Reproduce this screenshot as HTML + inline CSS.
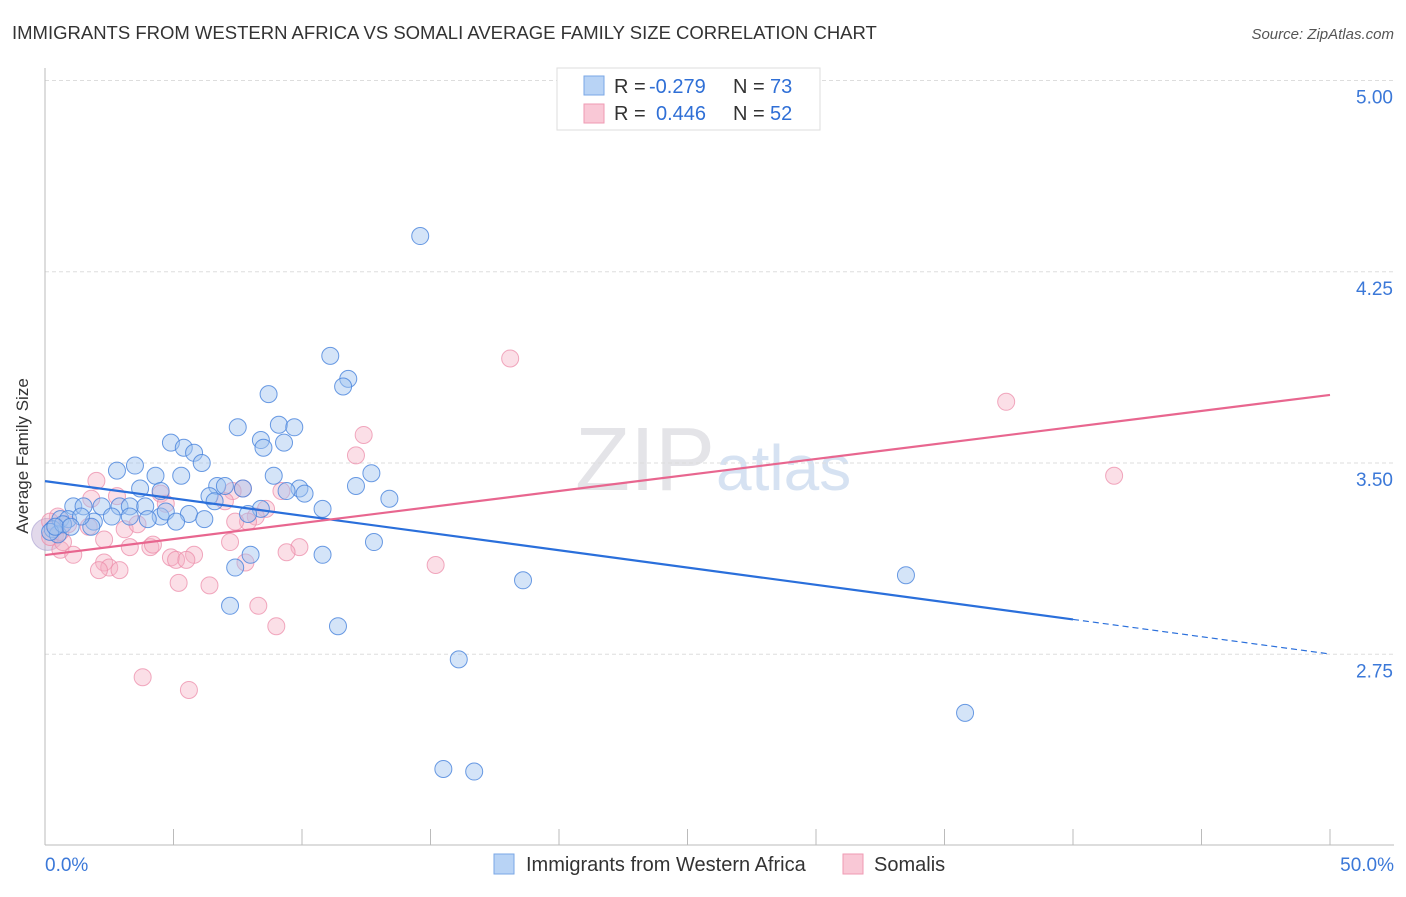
<!DOCTYPE html>
<html><head><meta charset="utf-8"><style>
body{margin:0;background:#fff;font-family:"Liberation Sans",sans-serif;}
svg text{font-family:"Liberation Sans",sans-serif;}
</style></head><body>
<svg id="c" width="1406" height="892" xmlns="http://www.w3.org/2000/svg">
<text x="12" y="39" font-size="18.5" fill="#333">IMMIGRANTS FROM WESTERN AFRICA VS SOMALI AVERAGE FAMILY SIZE CORRELATION CHART</text>
<text x="1394" y="39" font-size="15" fill="#555" font-style="italic" text-anchor="end">Source: ZipAtlas.com</text>
<text x="28" y="456" font-size="17" fill="#333" text-anchor="middle" transform="rotate(-90 28 456)">Average Family Size</text>
<text x="715" y="490" font-size="90" fill="#e4e4e8" text-anchor="end" font-family="Liberation Serif">ZIP</text>
<text x="716" y="490" font-size="64" fill="#d6e2f2">atlas</text>
<g id="grid"></g><g id="axes"></g><g id="pts"></g><g id="lines"></g>
<g>
<rect x="557" y="68" width="263" height="62" fill="#fff" stroke="#ddd"/>
<rect x="584" y="76" width="20" height="19" fill="#b8d3f5" stroke="#7aa7e6"/>
<rect x="584" y="104" width="20" height="19" fill="#f9c8d6" stroke="#ef9ab3"/>
<text x="614" y="93" font-size="20" fill="#333">R =</text>
<text x="649" y="93" font-size="20" fill="#2f6fd6">-0.279</text>
<text x="733" y="93" font-size="20" fill="#333">N =</text>
<text x="770" y="93" font-size="20" fill="#2f6fd6">73</text>
<text x="614" y="120" font-size="20" fill="#333">R =</text>
<text x="656" y="120" font-size="20" fill="#2f6fd6">0.446</text>
<text x="733" y="120" font-size="20" fill="#333">N =</text>
<text x="770" y="120" font-size="20" fill="#2f6fd6">52</text>
</g>
<g>
<rect x="494" y="854" width="20" height="20" fill="#b8d3f5" stroke="#7aa7e6"/>
<text x="526" y="871" font-size="20" fill="#333">Immigrants from Western Africa</text>
<rect x="843" y="854" width="20" height="20" fill="#f9c8d6" stroke="#ef9ab3"/>
<text x="874" y="871" font-size="20" fill="#333">Somalis</text>
</g>
<text x="45" y="871" font-size="19" fill="#3b78d8">0.0%</text>
<text x="1394" y="871" font-size="19" fill="#3b78d8" text-anchor="end">50.0%</text>
</svg>
<script>
const yTicks=[5.00,4.25,3.50,2.75];
const blueX=[14.6,11.1,11.8,11.6,8.7,9.1,9.7,7.5,8.4,9.3,8.5,4.9,5.4,5.8,6.1,3.5,2.8,4.3,5.3,8.9,12.7,12.1,6.7,7.7,9.9,7.0,3.7,4.5,6.4,9.4,10.1,13.4,6.6,1.1,1.5,2.2,2.9,3.3,3.9,4.5,5.6,8.4,10.8,4.7,2.6,0.6,0.9,1.9,4.0,5.1,6.2,7.9,1.8,0.3,0.5,0.2,12.8,10.8,8.0,7.4,18.6,33.5,7.2,11.4,16.1,35.8,15.5,16.7,0.7,1.4,3.3,0.4,1.0];
const blueY=[4.39,3.92,3.83,3.80,3.77,3.65,3.64,3.64,3.59,3.58,3.56,3.58,3.56,3.54,3.50,3.49,3.47,3.45,3.45,3.45,3.46,3.41,3.41,3.40,3.40,3.41,3.40,3.39,3.37,3.39,3.38,3.36,3.35,3.33,3.33,3.33,3.33,3.33,3.33,3.29,3.30,3.32,3.32,3.31,3.29,3.28,3.28,3.27,3.28,3.27,3.28,3.30,3.25,3.24,3.22,3.23,3.19,3.14,3.14,3.09,3.04,3.06,2.94,2.86,2.73,2.52,2.30,2.29,3.26,3.29,3.29,3.25,3.25];
const pinkX=[18.1,37.4,12.4,12.1,41.6,2.0,2.8,4.5,1.8,7.7,7.3,8.6,9.2,4.7,7.0,8.2,0.5,7.9,7.4,0.9,1.7,3.1,3.6,2.3,4.1,3.3,4.2,0.6,1.1,5.8,4.9,5.1,5.5,7.2,9.9,9.4,7.8,2.3,2.5,2.1,2.9,15.2,5.2,6.4,8.3,9.0,3.8,5.6,0.2,0.2,0.7,0.6];
const pinkY=[3.91,3.74,3.61,3.53,3.45,3.43,3.37,3.38,3.36,3.40,3.39,3.32,3.39,3.34,3.35,3.29,3.29,3.27,3.27,3.26,3.25,3.24,3.26,3.20,3.17,3.17,3.18,3.16,3.14,3.14,3.13,3.12,3.12,3.19,3.17,3.15,3.11,3.11,3.09,3.08,3.08,3.10,3.03,3.02,2.94,2.86,2.66,2.61,3.21,3.27,3.19,3.23];
const blueTrend=[3.429,2.751], pinkTrend=[3.139,3.767];
const X=v=>45+v*25.7, Y=v=>463-(v-3.5)*255;
const NS='http://www.w3.org/2000/svg';
function mk(t,a,p){const e=document.createElementNS(NS,t);for(const k in a)e.setAttribute(k,a[k]);p.appendChild(e);return e;}
const grid=document.getElementById('grid'),axes=document.getElementById('axes'),pts=document.getElementById('pts'),lines=document.getElementById('lines');
yTicks.forEach(t=>{
 const l=mk('line',{x1:45,x2:1394,y1:Y(t),y2:Y(t),stroke:'#ddd','stroke-dasharray':'4 3'},grid);
 
 
 const tx=mk('text',{x:1393,y:Y(t)+23,'font-size':19,fill:'#3b78d8','text-anchor':'end'},grid);
 tx.textContent=t.toFixed(2);
 
 
});
const ax=mk('line',{x1:45,x2:45,y1:68,y2:845,stroke:'#bbb'},axes);


const bx=mk('line',{x1:45,x2:1394,y1:845,y2:845,stroke:'#bbb'},axes);


for(let i=0;i<=10;i++){const t=mk('line',{x1:X(i*5),x2:X(i*5),y1:829,y2:845,stroke:'#bbb'},axes);
 
 }
const big=mk('circle',{cx:X(0.1),cy:Y(3.22),r:16,fill:'rgba(190,170,210,0.45)',stroke:'rgba(150,140,200,0.5)'},pts);


pinkX.forEach((v,i)=>{const c=mk('circle',{cx:X(v),cy:Y(pinkY[i]),r:8.5,fill:'rgba(246,175,196,0.4)',stroke:'rgba(236,140,170,0.75)'},pts);
 
 });
blueX.forEach((v,i)=>{const c=mk('circle',{cx:X(v),cy:Y(blueY[i]),r:8.5,fill:'rgba(160,196,240,0.45)',stroke:'rgba(70,130,220,0.8)'},pts);
 
 });
const bt=(x)=>blueTrend[0]+(blueTrend[1]-blueTrend[0])*x/50;
const l1=mk('line',{x1:X(0),y1:Y(bt(0)),x2:X(40),y2:Y(bt(40)),stroke:'#2a6fdb','stroke-width':2.2},lines);


const l2=mk('line',{x1:X(40),y1:Y(bt(40)),x2:X(50),y2:Y(bt(50)),stroke:'#2a6fdb','stroke-width':1.2,'stroke-dasharray':'6 4'},lines);


const l3=mk('line',{x1:X(0),y1:Y(pinkTrend[0]),x2:X(50),y2:Y(pinkTrend[1]),stroke:'#e8668f','stroke-width':2.2},lines);


</script>
</body></html>
